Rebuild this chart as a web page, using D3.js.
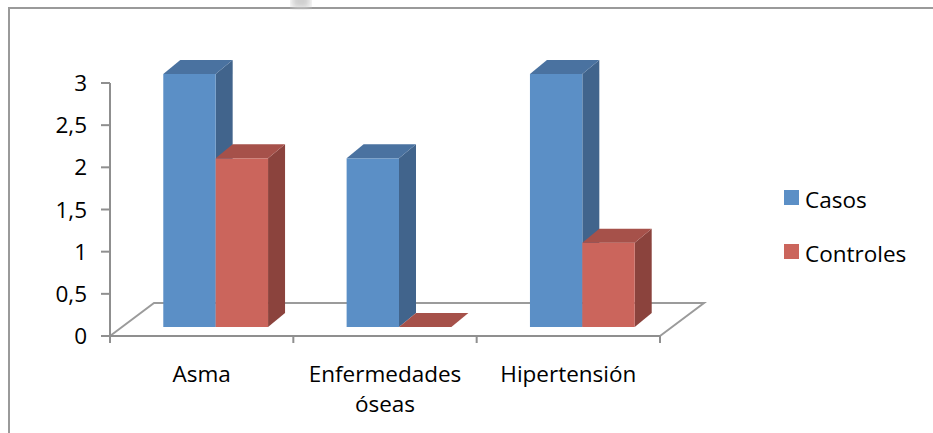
<!DOCTYPE html>
<html>
<head>
<meta charset="utf-8">
<script src="https://cdn.jsdelivr.net/npm/d3@7"></script>
<style>
  html, body { margin: 0; padding: 0; background: #fff; }
  svg { display: block; }
  text { font-family: "Open Sans", Lato, "Liberation Sans", sans-serif; fill: #000; }
</style>
</head>
<body>
<svg id="chart" width="933" height="433"></svg>
<script>
// Chart data
const categories = ["Asma", "Enfermedades óseas", "Hipertensión"];
const seriesNames = ["Casos", "Controles"];
const casos = [3, 2, 3];
const controles = [2, 0, 1];
const yTicks = [0, 0.5, 1, 1.5, 2, 2.5, 3];
const yTickLabels = ["0", "0,5", "1", "1,5", "2", "2,5", "3"];

const colors = {
  Casos:     { front: "#5B8FC6", top: "#4A72A0", side: "#41648C" },
  Controles: { front: "#CB655C", top: "#A6514A", side: "#8B433D" }
};

const fontSize = 22.5;
const svg = d3.select("#chart");

// Outer frame
svg.append("rect")
  .attr("x", 9).attr("y", 8)
  .attr("width", 960).attr("height", 460)
  .attr("fill", "none").attr("stroke", "#9a9a9a").attr("stroke-width", 2);

// soft smudge at the top edge
const defs = svg.append("defs");
defs.append("filter").attr("id", "soft")
  .append("feGaussianBlur").attr("stdDeviation", 3);
svg.append("rect")
  .attr("x", 292).attr("y", -6).attr("width", 18).attr("height", 14)
  .attr("fill", "#cfcfcf").attr("filter", "url(#soft)");

// Scales
const x = d3.scaleBand().domain(categories).range([110, 660]).padding(0);
const y = d3.scaleLinear().domain([0, 3]).range([336, 83]);
const gapRatio = 1.5;
const groupW = x.bandwidth() * 2 / (2 + gapRatio);
const inner = d3.scaleBand().domain(seriesNames).range([0, groupW]).padding(0);

// 3D offsets
const floorDepth = { dx: 44, dy: -33 };
const barFront = { dx: 14, dy: -9 };
const barDepth = { dx: 17, dy: -14 };

const axisColor = "#8f8f8f";

// Floor (back edges + diagonals)
const floor = svg.append("g").attr("fill", "none").attr("stroke", "#9b9b9b").attr("stroke-width", 2);
const x0 = x.range()[0], x1 = x.range()[1], y0 = y(0);
floor.append("path").attr("d",
  `M${x0},${y0} L${x0 + floorDepth.dx},${y0 + floorDepth.dy} L${x1 + floorDepth.dx},${y0 + floorDepth.dy} L${x1},${y0}`);

// Bars
const bars = svg.append("g");
categories.forEach((cat, i) => {
  const vals = { Casos: casos[i], Controles: controles[i] };
  seriesNames.forEach(s => {
    const v = vals[s];
    const c = colors[s];
    const bx0 = x(cat) + (x.bandwidth() - groupW) / 2 + inner(s) + barFront.dx;
    const bx1 = bx0 + inner.bandwidth();
    const yb = y(0) + barFront.dy;
    const yt = y(v) + barFront.dy;
    const ddx = barDepth.dx, ddy = barDepth.dy;
    const g = bars.append("g");
    if (v > 0) {
      g.append("polygon")
        .attr("points", [[bx1, yt], [bx1, yb], [bx1 + ddx, yb + ddy], [bx1 + ddx, yt + ddy]].join(" "))
        .attr("fill", c.side);
      g.append("rect")
        .attr("x", bx0).attr("y", yt)
        .attr("width", bx1 - bx0).attr("height", yb - yt)
        .attr("fill", c.front);
    }
    g.append("polygon")
      .attr("points", [[bx0, yt], [bx1, yt], [bx1 + ddx, yt + ddy], [bx0 + ddx, yt + ddy]].join(" "))
      .attr("fill", c.top);
  });
});

// Y axis
const yAxis = svg.append("g");
yAxis.append("line")
  .attr("x1", x0).attr("x2", x0).attr("y1", y(3)).attr("y2", y(0))
  .attr("stroke", axisColor).attr("stroke-width", 2);
yAxis.selectAll("line.tick").data(yTicks).join("line")
  .attr("class", "tick")
  .attr("x1", x0 - 9).attr("x2", x0)
  .attr("y1", d => y(d)).attr("y2", d => y(d))
  .attr("stroke", axisColor).attr("stroke-width", 2);
yAxis.selectAll("text").data(yTicks).join("text")
  .attr("x", 87).attr("y", d => y(d))
  .attr("dy", "0.36em")
  .attr("text-anchor", "end")
  .attr("font-size", fontSize)
  .text((d, i) => yTickLabels[i]);

// X axis (front floor edge)
const xAxis = svg.append("g");
xAxis.append("line")
  .attr("x1", x0).attr("x2", x1).attr("y1", y0).attr("y2", y0)
  .attr("stroke", axisColor).attr("stroke-width", 2);
const bounds = [x0, ...categories.map(c => x(c) + x.bandwidth())];
xAxis.selectAll("line.tick").data(bounds).join("line")
  .attr("class", "tick")
  .attr("x1", d => d).attr("x2", d => d)
  .attr("y1", y0).attr("y2", y0 + 7)
  .attr("stroke", axisColor).attr("stroke-width", 2);

const labelLines = {
  "Asma": ["Asma"],
  "Enfermedades óseas": ["Enfermedades", "óseas"],
  "Hipertensión": ["Hipertensión"]
};
categories.forEach(cat => {
  const t = xAxis.append("text")
    .attr("x", x(cat) + x.bandwidth() / 2)
    .attr("y", 382)
    .attr("text-anchor", "middle")
    .attr("font-size", fontSize);
  labelLines[cat].forEach((ln, k) => {
    t.append("tspan").attr("x", x(cat) + x.bandwidth() / 2)
      .attr("y", 382 + k * 30).text(ln);
  });
});

// Legend
const legend = svg.append("g");
seriesNames.forEach((s, i) => {
  const ly = 190 + i * 54;
  legend.append("rect")
    .attr("x", 784).attr("y", ly).attr("width", 15).attr("height", 15)
    .attr("fill", colors[s].front);
  legend.append("text")
    .attr("x", 805).attr("y", ly + 18)
    .attr("font-size", fontSize)
    .text(s);
});
</script>
</body>
</html>
